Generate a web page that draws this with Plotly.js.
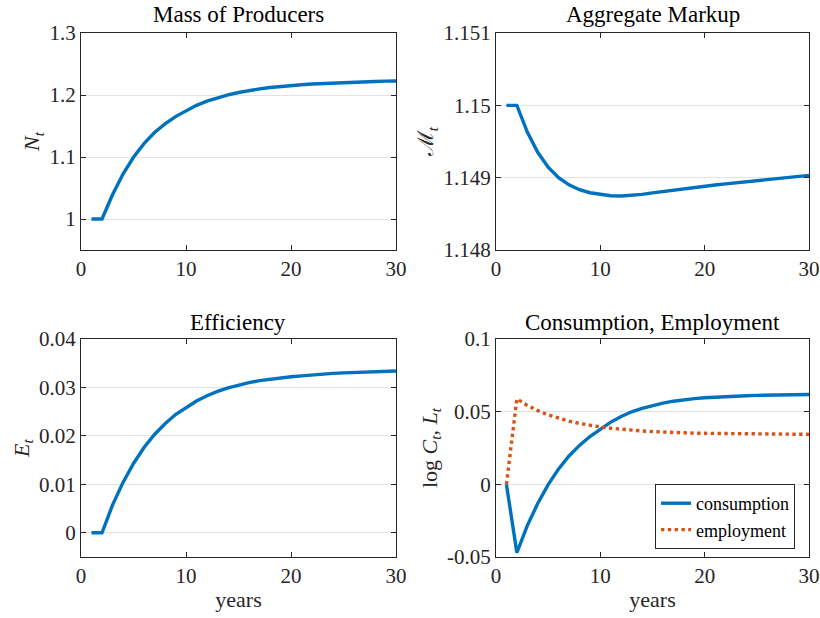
<!DOCTYPE html>
<html>
<head>
<meta charset="utf-8">
<script src="https://cdn.plot.ly/plotly-3.0.1.min.js"></script>
<style>
html,body{margin:0;padding:0;background:#fff;}
#chart{width:820px;height:618px;}
</style>
</head>
<body>
<div id="chart"></div>
<script>
// ---- data ----
const years = [1,2,3,4,5,6,7,8,9,10,11,12,13,14,15,16,17,18,19,20,21,22,23,24,25,26,27,28,29,30];

const massProducers = [1.000,1.000,1.039,1.0725,1.0995,1.1215,1.1395,1.1535,1.1652,1.1750,1.1833,1.1900,1.1956,1.2002,1.2040,1.2072,1.2098,1.2120,1.2138,1.2153,1.2166,1.2177,1.2186,1.2194,1.2201,1.2207,1.2213,1.2218,1.2223,1.2227];

const aggregateMarkup = [1.150000,1.150000,1.149631,1.149351,1.149146,1.149001,1.148901,1.148834,1.148792,1.148765,1.148750,1.148746,1.148753,1.148769,1.148789,1.148809,1.148828,1.148847,1.148865,1.148882,1.148899,1.148915,1.148931,1.148946,1.148960,1.148975,1.148990,1.149004,1.149018,1.149032];

const efficiency = [0,0,0.0057,0.0104,0.0143,0.0176,0.0203,0.0225,0.0244,0.0259,0.0272,0.0283,0.0292,0.0299,0.0305,0.0310,0.0314,0.0317,0.0320,0.0322,0.0324,0.0326,0.0328,0.0329,0.0330,0.0331,0.0332,0.0333,0.0333,0.0334];

const consumption = [0,-0.0470,-0.0284,-0.0132,-0.0002,0.0106,0.0195,0.0268,0.0329,0.0382,0.0428,0.0467,0.0499,0.0523,0.0543,0.0559,0.0572,0.0582,0.0590,0.0596,0.0601,0.0605,0.0608,0.0610,0.0612,0.0614,0.0615,0.0616,0.0617,0.0618];

const employment = [0,0.0588,0.0543,0.0507,0.0478,0.0454,0.0435,0.0419,0.0406,0.0395,0.0386,0.0378,0.0372,0.0367,0.0363,0.0359,0.0356,0.0354,0.0352,0.0351,0.0350,0.0349,0.0348,0.0347,0.0347,0.0346,0.0346,0.0345,0.0345,0.0344];

const xTickVals = [0,10,20,30];
const xTickText = ['0','10','20','30'];
const nTickVals = [1,1.1,1.2,1.3];
const nTickText = ['1','1.1','1.2','1.3'];
const mTickVals = [1.148,1.149,1.15,1.151];
const mTickText = ['1.148','1.149','1.15','1.151'];
const eTickVals = [0,0.01,0.02,0.03,0.04];
const eTickText = ['0','0.01','0.02','0.03','0.04'];
const cTickVals = [-0.05,0,0.05,0.1];
const cTickText = ['-0.05','0','0.05','0.1'];

const panelTitles = ['Mass of Producers','Aggregate Markup','Efficiency','Consumption, Employment'];
const yTitles = ['<i>N</i><sub><i>t</i></sub>','\u2133<sub><i>t</i></sub>','<i>E</i><sub><i>t</i></sub>','log <i>C</i><sub><i>t</i></sub>, <i>L</i><sub><i>t</i></sub>'];
const xTitle = 'years';
const seriesNames = ['consumption','employment'];

// ---- layout helpers ----
const W = 820, H = 618;
const FONT = '"Liberation Serif"';
const INK = '#262626';
const BLUE = '#0072BD', ORANGE = '#D95319';
const px = x => x / W;
const py = y => 1 - y / H;

const colL = [81, 396], colR = [496, 809];
const rowT = [33, 250], rowB = [339, 557];
const labelFont = {family: FONT, size: 22, color: INK};

function xAxis(dom, anchor, title) {
  const ax = {
    domain: [px(dom[0]), px(dom[1])], anchor: anchor, range: [0, 30],
    tickmode: 'array', tickvals: xTickVals, ticktext: xTickText,
    showline: true, linecolor: INK, linewidth: 1, mirror: 'ticks',
    ticks: 'inside', ticklen: 5, tickwidth: 1, tickcolor: INK,
    tickfont: {family: FONT, size: 21, color: INK},
    showgrid: false, zeroline: false, fixedrange: true
  };
  if (title) ax.title = {text: title, font: labelFont, standoff: 4};
  return ax;
}
function yAxis(dom, anchor, range, vals, text, title) {
  return {
    domain: [py(dom[1]), py(dom[0])], anchor: anchor, range: range,
    tickmode: 'array', tickvals: vals, ticktext: text,
    showline: true, linecolor: INK, linewidth: 1, mirror: 'ticks',
    ticks: 'inside', ticklen: 5, tickwidth: 1, tickcolor: INK,
    tickfont: {family: FONT, size: 21, color: INK},
    showgrid: true, gridcolor: '#e2e2e2', gridwidth: 1,
    zeroline: false, fixedrange: true,
    title: {text: title, font: labelFont, standoff: 3}
  };
}

const lineBlue = {color: BLUE, width: 3.4};
const traces = [
  {x: years, y: massProducers, xaxis: 'x', yaxis: 'y', mode: 'lines', line: lineBlue, showlegend: false},
  {x: years, y: aggregateMarkup, xaxis: 'x2', yaxis: 'y2', mode: 'lines', line: lineBlue, showlegend: false},
  {x: years, y: efficiency, xaxis: 'x3', yaxis: 'y3', mode: 'lines', line: lineBlue, showlegend: false},
  {x: years, y: consumption, xaxis: 'x4', yaxis: 'y4', mode: 'lines', line: lineBlue, name: seriesNames[0]},
  {x: years, y: employment, xaxis: 'x4', yaxis: 'y4', mode: 'lines', line: {color: ORANGE, width: 3.4, dash: 'dot'}, name: seriesNames[1]}
];

const titleFont = {family: FONT, size: 23, color: '#000'};
function ann(text, x, y) {
  return {text: text, xref: 'paper', yref: 'paper', x: px(x), y: py(y),
          xanchor: 'center', yanchor: 'middle', showarrow: false, font: titleFont};
}
const annotations = [
  ann(panelTitles[0], (colL[0]+colL[1])/2, 15),
  ann(panelTitles[1], (colR[0]+colR[1])/2, 15),
  ann(panelTitles[2], (colL[0]+colL[1])/2, 322),
  ann(panelTitles[3], (colR[0]+colR[1])/2, 322)
];

const layout = {
  width: W, height: H,
  margin: {l: 0, r: 0, t: 0, b: 0, pad: 0},
  paper_bgcolor: '#fff', plot_bgcolor: '#fff',
  font: {family: FONT, color: INK},
  xaxis: xAxis(colL, 'y'),
  yaxis: yAxis(rowT, 'x', [0.95, 1.3], nTickVals, nTickText, yTitles[0]),
  xaxis2: xAxis(colR, 'y2'),
  yaxis2: yAxis(rowT, 'x2', [1.148, 1.151], mTickVals, mTickText, yTitles[1]),
  xaxis3: xAxis(colL, 'y3', xTitle),
  yaxis3: yAxis(rowB, 'x3', [-0.005, 0.04], eTickVals, eTickText, yTitles[2]),
  xaxis4: xAxis(colR, 'y4', xTitle),
  yaxis4: yAxis(rowB, 'x4', [-0.05, 0.1], cTickVals, cTickText, yTitles[3]),
  showlegend: true,
  legend: {
    x: px(795), y: py(549), xanchor: 'right', yanchor: 'bottom',
    bgcolor: '#fff', bordercolor: INK, borderwidth: 1,
    font: {family: FONT, size: 18, color: '#000'},
    tracegroupgap: 0, itemwidth: 30
  },
  annotations: annotations
};

Plotly.newPlot('chart', traces, layout, {staticPlot: true, displayModeBar: false});
</script>
</body>
</html>
